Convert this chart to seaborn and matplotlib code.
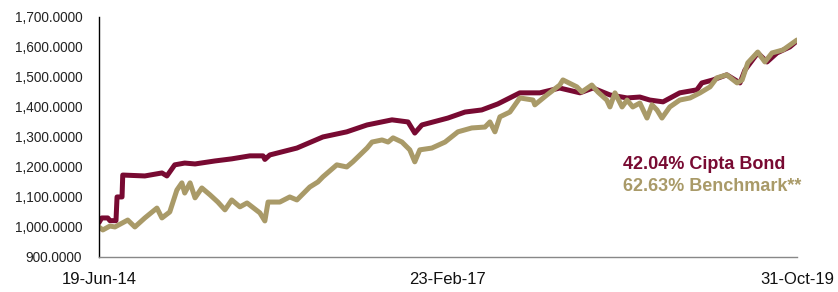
import pandas as pd
import numpy as np
import matplotlib
matplotlib.use('Agg')
import matplotlib.pyplot as plt
import seaborn as sns

# values (days since 19-Jun-14, index level)
start = pd.Timestamp('2014-06-19')

fund_days = [0, 8, 25, 31, 48, 51, 65, 67, 129, 177, 191, 213, 241, 270, 326,
             373, 424, 461, 466, 480, 556, 629, 696, 753, 823, 868, 887, 907,
             980, 1028, 1075, 1120, 1182, 1238, 1294, 1351, 1387, 1435, 1483,
             1519, 1547, 1584, 1631, 1679, 1693, 1724, 1763, 1800, 1814, 1850,
             1876, 1904, 1940, 1960]
fund_vals = [1014, 1030, 1030, 1021, 1021, 1100, 1100, 1173, 1170, 1180, 1170,
             1207, 1213, 1210, 1220, 1227, 1237, 1237, 1225, 1240, 1263, 1300,
             1317, 1340, 1357, 1350, 1313, 1340, 1363, 1383, 1390, 1410, 1447,
             1447, 1463, 1447, 1463, 1440, 1430, 1433, 1423, 1417, 1447, 1457,
             1480, 1490, 1507, 1480, 1523, 1580, 1550, 1580, 1600, 1620]

bench_days = [0, 11, 31, 45, 81, 101, 129, 163, 177, 199, 219, 233, 241, 256,
              270, 289, 312, 334, 354, 373, 396, 416, 452, 466, 475, 508, 536,
              556, 592, 615, 629, 668, 696, 713, 733, 753, 767, 795, 812, 826,
              851, 873, 887, 901, 935, 972, 1008, 1047, 1084, 1098, 1112, 1126,
              1154, 1182, 1219, 1224, 1258, 1294, 1303, 1342, 1356, 1384, 1401,
              1426, 1435, 1449, 1469, 1483, 1499, 1519, 1539, 1553, 1567, 1581,
              1603, 1631, 1660, 1688, 1716, 1735, 1763, 1792, 1806, 1822, 1850,
              1870, 1890, 1921, 1960]
bench_vals = [1000, 990, 1003, 1000, 1023, 1000, 1030, 1063, 1030, 1050, 1123,
              1147, 1113, 1147, 1097, 1130, 1107, 1083, 1057, 1090, 1067, 1080,
              1047, 1020, 1083, 1083, 1100, 1090, 1133, 1150, 1167, 1207, 1200,
              1217, 1240, 1263, 1283, 1290, 1283, 1297, 1283, 1257, 1217, 1257,
              1263, 1283, 1317, 1330, 1333, 1350, 1317, 1367, 1383, 1430, 1423,
              1407, 1440, 1473, 1490, 1467, 1450, 1473, 1450, 1423, 1400, 1447,
              1400, 1423, 1400, 1413, 1363, 1407, 1390, 1363, 1400, 1423, 1430,
              1447, 1467, 1497, 1507, 1480, 1490, 1547, 1583, 1550, 1580, 1590,
              1623]

tick_dates = ['2014-06-19', '2017-02-23', '2019-10-31']
tick_labels = ['19-Jun-14', '23-Feb-17', '31-Oct-19']

fund_label = '42.04% Cipta Bond'
bench_label = '62.63% Benchmark**'

maroon = '#780A32'
khaki = '#A99A68'

fund = pd.DataFrame({'date': start + pd.to_timedelta(fund_days, unit='D'), 'value': fund_vals})
bench = pd.DataFrame({'date': start + pd.to_timedelta(bench_days, unit='D'), 'value': bench_vals})

sns.set_style('white')
plt.rcParams['font.family'] = ['Liberation Sans', 'DejaVu Sans']

fig = plt.figure(figsize=(8.38, 2.92), dpi=100)
ax = fig.add_axes([0.118, 0.120, 0.833, 0.822])

sns.lineplot(data=fund, x='date', y='value', color=maroon, linewidth=3.6, ax=ax)
sns.lineplot(data=bench, x='date', y='value', color=khaki, linewidth=3.6, ax=ax)

ax.set_ylim(900, 1700)
ax.set_yticks(np.arange(900, 1701, 100))
ax.yaxis.set_major_formatter(matplotlib.ticker.FuncFormatter(lambda v, p: f'{v:,.4f}'))
ax.set_xlim(pd.Timestamp(tick_dates[0]), pd.Timestamp(tick_dates[-1]))
ax.set_xticks(pd.to_datetime(tick_dates))
ax.set_xticklabels(tick_labels)
ax.tick_params(axis='y', length=0, labelsize=9.8, pad=12, colors='#222222')
ax.tick_params(axis='x', length=0, labelsize=12, pad=11, colors='#111111')
ax.set_xlabel('')
ax.set_ylabel('')

for s in ['top', 'right']:
    ax.spines[s].set_visible(False)
ax.spines['left'].set_color('black')
ax.spines['left'].set_linewidth(1)
ax.spines['bottom'].set_color('#888888')
ax.spines['bottom'].set_linewidth(1)

fig.text(0.743, 0.438, fund_label, color=maroon, fontsize=13, fontweight='bold', va='center')
fig.text(0.743, 0.363, bench_label, color=khaki, fontsize=13, fontweight='bold', va='center')

fig.savefig('out.png', dpi=100)
